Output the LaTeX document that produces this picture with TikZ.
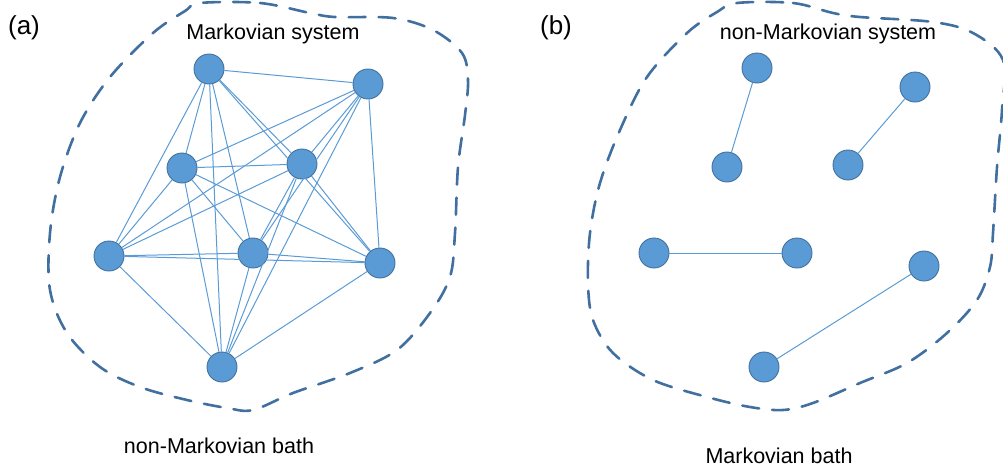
\documentclass[tikz,border=0pt]{standalone}
\usepackage{fontspec}
\setmainfont{Liberation Sans}
\definecolor{nodefill}{RGB}{91,155,213}
\definecolor{nodeborder}{RGB}{65,113,156}
\definecolor{blobcol}{RGB}{65,112,160}
\definecolor{edgecol}{RGB}{91,155,213}
\tikzset{
  qubit/.style={circle, minimum size=30pt, inner sep=0pt, fill=nodefill, draw=nodeborder, line width=0.9pt},
  link/.style={draw=edgecol, line width=1pt},
  blob/.style={draw=blobcol, line width=2.6pt, line cap=round, dash pattern=on 17pt off 13pt},
  lbl/.style={font=\fontsize{21.5}{26}\selectfont, inner sep=0pt, text=black},
  panel/.style={font=\fontsize{26}{30}\selectfont, inner sep=0pt, text=black}
}
\begin{document}
\begin{tikzpicture}[x=1pt,y=-1pt]
\useasboundingbox (0,0) rectangle (1003,469);
\clip (0,0) rectangle (1003,469);
% blobs
\draw[blob] plot[smooth cycle, tension=0.55] coordinates {
 (200,3) (260,3) (310,13) (335,17) (393,18) (433,30) (462,53) (468,80) (465,115) (458,167) (455,233) (450,277) (430,313) (397,350) (350,373) (293,393) (253,410) (227,408) (187,400) (140,387) (100,367) (67,333) (50,290) (50,233) (60,177) (80,123) (110,77) (153,33) (185,11)};
\draw[blob] plot[smooth cycle, tension=0.55] coordinates {
 (737,3) (793,3) (833,13) (860,17) (933,22) (973,33) (1003,60) (1002,110) (997,167) (993,233) (990,267) (977,300) (947,333) (907,363) (860,383) (813,403) (783,410) (750,407) (707,397) (653,380) (613,353) (593,320) (588,283) (590,233) (600,183) (620,130) (647,77) (687,33) (717,12)};
% labels
\node[panel] (pa) at (24,28) {(a)};
\node[panel] (pb) at (556,28) {(b)};
\node[lbl] (ta) at (273,34) {Markovian system};
\node[lbl] (tb) at (828,34) {non-Markovian system};
\node[lbl] (ba) at (219,446) {non-Markovian bath};
\node[lbl] (bb) at (779,456) {Markovian bath};
% panel (a) nodes
\node[qubit] (a1) at (209,69) {};
\node[qubit] (a2) at (368,84) {};
\node[qubit] (a3) at (182,168) {};
\node[qubit] (a4) at (302,164) {};
\node[qubit] (a5) at (109,256) {};
\node[qubit] (a6) at (253,253) {};
\node[qubit] (a7) at (380,263) {};
\node[qubit] (a8) at (222,367) {};
\foreach \i in {1,...,8}{
  \foreach \j in {1,...,8}{
    \ifnum\i<\j
      \draw[link] (a\i) -- (a\j);
    \fi
  }
}
% panel (b) nodes
\node[qubit] (b1) at (757,68) {};
\node[qubit] (b2) at (915,87) {};
\node[qubit] (b3) at (727,167) {};
\node[qubit] (b4) at (848,165) {};
\node[qubit] (b5) at (654,253) {};
\node[qubit] (b6) at (797,253) {};
\node[qubit] (b7) at (924,266) {};
\node[qubit] (b8) at (764,367) {};
\draw[link] (b1) -- (b3);
\draw[link] (b2) -- (b4);
\draw[link] (b5) -- (b6);
\draw[link] (b7) -- (b8);
\end{tikzpicture}
\end{document}
